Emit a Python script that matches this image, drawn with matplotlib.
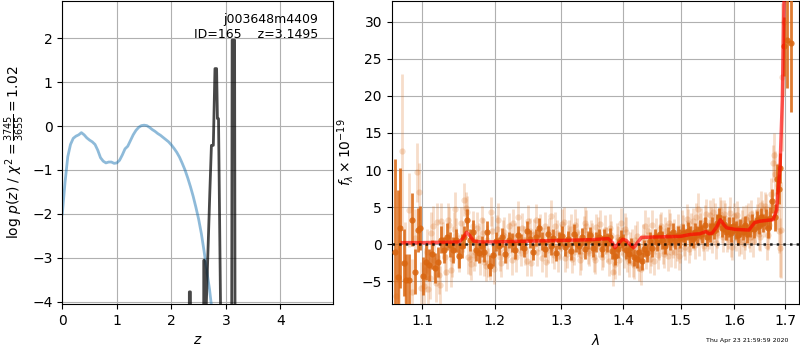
import numpy as np
import matplotlib
matplotlib.use("Agg")
import matplotlib.pyplot as plt
from matplotlib.ticker import NullLocator, FixedLocator, FixedFormatter

# ---------------- left panel data ----------------
z_pz = [0.0, 0.05, 0.1, 0.15, 0.2, 0.25, 0.3, 0.35, 0.4, 0.45, 0.5, 0.55, 0.6, 0.65,
        0.7, 0.75, 0.8, 0.85, 0.9, 0.95, 1.0, 1.05, 1.1, 1.15, 1.2, 1.25, 1.3, 1.35,
        1.4, 1.45, 1.5, 1.55, 1.6, 1.65, 1.7, 1.75, 1.8, 1.85, 1.9, 1.95, 2.0, 2.05,
        2.1, 2.15, 2.2, 2.25, 2.3, 2.35, 2.4, 2.45, 2.5, 2.55, 2.6, 2.65, 2.7, 2.75, 2.8]
logp_pz = [-2.0, -1.28, -0.7, -0.42, -0.28, -0.23, -0.2, -0.15, -0.2, -0.27, -0.32,
           -0.36, -0.42, -0.55, -0.72, -0.8, -0.84, -0.82, -0.82, -0.85, -0.84, -0.78,
           -0.66, -0.52, -0.46, -0.33, -0.2, -0.1, -0.03, 0.01, 0.02, 0.01, -0.03,
           -0.08, -0.12, -0.17, -0.21, -0.26, -0.31, -0.36, -0.43, -0.51, -0.6, -0.71,
           -0.85, -1.0, -1.18, -1.38, -1.6, -1.85, -2.12, -2.45, -2.85, -3.3, -3.72,
           -4.25, -4.9]

z_chi = [0.0, 2.32, 2.33, 2.35, 2.36, 2.585, 2.595, 2.605, 2.615, 2.63, 2.705, 2.735,
         2.77, 2.80, 2.83, 2.845, 2.865, 2.91, 2.95, 3.10, 3.115, 3.16, 3.175, 4.96]
logp_chi = [-10, -10, -3.78, -3.78, -10, -10, -3.06, -3.06, -10, -4.5, -1.54, -0.44,
            -0.44, 1.31, 1.31, 0.17, 0.17, -5.0, -10, -10, 1.96, 1.96, -10, -10]

# ---------------- right panel data ----------------
faint_wave = [1.0660, 1.0700, 1.0740, 1.0780, 1.0820, 1.0865, 1.0905, 1.0926, 1.0950,
              1.0985, 1.1025, 1.1060, 1.1100, 1.1140, 1.1180, 1.1220, 1.1255, 1.1300,
              1.1340, 1.1380, 1.1420, 1.1460, 1.1500, 1.1561, 1.1590, 1.1625, 1.1665,
              1.1705, 1.1750, 1.1790, 1.1830, 1.1870, 1.1905, 1.1944, 1.1985, 1.2025,
              1.2070, 1.2115, 1.2160, 1.2205, 1.2250, 1.2295, 1.2340, 1.2385, 1.2430,
              1.2475, 1.2520, 1.2565, 1.2610, 1.2655, 1.2700, 1.2745, 1.2790, 1.2835,
              1.2880, 1.2925, 1.2970, 1.3015, 1.3060, 1.3105, 1.3150, 1.3195, 1.3240,
              1.3285, 1.3330, 1.3375, 1.3420, 1.3465, 1.3510, 1.3555, 1.3600, 1.3645,
              1.3690, 1.3735, 1.3780, 1.3833, 1.3870, 1.3915, 1.3960, 1.4005, 1.4050,
              1.4095, 1.4140, 1.4185, 1.4230, 1.4275, 1.4320, 1.4365, 1.4410, 1.4455,
              1.4500, 1.4545, 1.4590, 1.4635, 1.4680, 1.4725, 1.4770, 1.4815, 1.4860,
              1.4905, 1.4950, 1.4995, 1.5040, 1.5085, 1.5130, 1.5175, 1.5220, 1.5265,
              1.5319, 1.5355, 1.5400, 1.5445, 1.5490, 1.5535, 1.5580, 1.5625, 1.5670,
              1.5715, 1.5760, 1.5805, 1.5850, 1.5895, 1.5940, 1.5985, 1.6030, 1.6075,
              1.6120, 1.6165, 1.6210, 1.6255, 1.6300, 1.6345, 1.6390, 1.6435, 1.6480,
              1.6525, 1.6570, 1.6615, 1.6660, 1.6705, 1.6760, 1.6790, 1.6830, 1.6870,
              1.6910, 1.6935, 1.6975]
faint_flux = [-7.0, -4.8, 12.6, -2.5, 4.6, -6.5, 0.8, 9.7, 7.1, -5.9, -5.7, -1.0, -4.6,
              2.4, -5.2, -4.1, 3.1, -1.8, 3.2, -3.5, 2.0, 1.2, -1.6, 6.0, 4.9, -1.8,
              -2.7, -1.5, 2.2, -2.0, 1.5, -3.0, -2.5, 4.4, -3.4, 2.0, -1.8, 1.2, -0.6,
              2.5, -2.1, 1.0, 3.6, -1.2, 0.5, -2.3, 1.8, -0.2, 3.3, 0.9, -1.9, 2.4, -0.8,
              3.8, -1.5, 1.5, -0.3, 2.7, -1.9, 0.7, 2.0, -1.0, 1.6, -2.2, 0.4, 2.9, -0.9,
              1.3, -1.7, 2.3, 0.1, -1.8, 1.9, -0.5, 2.2, -3.7, -2.7, 0.6, 2.8, -1.4, 1.7,
              -2.4, 0.2, -2.8, 1.1, -3.2, -1.0, 2.5, -0.2, -2.0, 2.6, 0.4, -1.5, 2.1,
              -0.9, 1.8, -1.6, 2.4, 0.0, -1.1, 2.2, -0.7, 1.9, -0.4, 2.9, 0.5, 3.1, -0.1,
              4.7, 2.3, 0.9, 3.3, 1.0, 3.9, 0.6, 3.6, 1.5, 4.6, 2.0, 4.0, 0.8, 3.2, 0.3,
              3.8, 1.0, 2.9, 0.4, 3.3, 1.2, 3.7, 0.9, 2.6, 1.8, 3.5, 1.4, 5.3, 3.0, 4.8,
              1.2, 4.0, 10.9, 9.5, 5.0, 1.8, 1.9, 22.6, 30.0]
faint_err = [6.5, 6.0, 10.3, 5.5, 5.0, 4.5, 4.0, 4.0, 3.8, 3.5, 3.2, 3.0, 2.8, 2.7,
             2.6, 2.6, 2.5, 2.4, 2.4, 2.3, 2.3, 2.3, 2.2, 2.2, 2.2, 2.2, 2.1, 2.1, 2.1,
             2.1, 2.0, 2.0, 2.0, 2.0, 2.0, 1.9, 1.8, 2.1, 1.9, 1.7, 2.0, 1.9, 2.2, 1.8,
             1.9, 2.0, 1.7, 1.9, 2.1, 1.8, 1.9, 2.0, 1.8, 2.2, 1.9, 1.7, 1.9, 2.0, 1.8,
             1.9, 2.1, 1.8, 1.9, 2.0, 1.7, 2.1, 1.8, 1.9, 2.0, 1.8, 1.9, 1.7, 2.0, 1.9,
             1.8, 2.0, 2.0, 1.9, 2.1, 1.8, 1.9, 2.0, 1.8, 1.9, 2.0, 1.8, 1.9, 2.1, 1.8,
             1.9, 2.0, 1.7, 1.9, 2.0, 1.8, 1.9, 2.0, 1.8, 1.9, 2.1, 1.8, 1.9, 2.0, 1.8,
             1.9, 2.0, 1.8, 1.9, 2.2, 1.9, 1.8, 2.0, 1.9, 2.1, 1.8, 1.9, 2.0, 1.8, 1.9,
             2.0, 1.8, 1.9, 2.0, 1.8, 1.9, 2.1, 1.8, 1.9, 2.0, 1.8, 1.9, 2.0, 1.8, 1.9,
             2.2, 1.9, 2.1, 1.9, 2.0, 1.9, 2.5, 3.0, 3.0, 3.0, 6.5, 10.0, 10.0]

faint2_wave = [1.1040, 1.1080, 1.1120, 1.1160, 1.1200, 1.1240, 1.1280, 1.1320, 1.1360, 1.1400,
               1.1440, 1.1480, 1.1520, 1.1545, 1.1605, 1.1645, 1.1685, 1.1725, 1.1770, 1.1810,
               1.1850, 1.1890, 1.1925, 1.1965, 1.2005, 1.2045, 1.2090, 1.2135, 1.2180, 1.2225,
               1.2270, 1.2315, 1.2360, 1.2405, 1.2450, 1.2495, 1.2540, 1.2585, 1.2630, 1.2675,
               1.2720, 1.2765, 1.2810, 1.2855, 1.2900, 1.2945, 1.2990, 1.3035, 1.3080, 1.3125,
               1.3170, 1.3215, 1.3260, 1.3305, 1.3350, 1.3395, 1.3440, 1.3485, 1.3530, 1.3575,
               1.3620, 1.3665, 1.3710, 1.3755, 1.3800, 1.3850, 1.3890, 1.3935, 1.3980, 1.4025,
               1.4070, 1.4115, 1.4160, 1.4205, 1.4250, 1.4295, 1.4340, 1.4385, 1.4430, 1.4475,
               1.4520, 1.4565, 1.4610, 1.4655, 1.4700, 1.4745, 1.4790, 1.4835, 1.4880, 1.4925,
               1.4970, 1.5015, 1.5060, 1.5105, 1.5150, 1.5195, 1.5240, 1.5285, 1.5330, 1.5375,
               1.5420, 1.5465, 1.5510, 1.5555, 1.5600, 1.5645, 1.5690, 1.5735, 1.5780, 1.5825,
               1.5870, 1.5915, 1.5960, 1.6005, 1.6050, 1.6095, 1.6140, 1.6185, 1.6230, 1.6275,
               1.6320, 1.6365, 1.6410, 1.6455, 1.6500, 1.6545, 1.6590, 1.6635, 1.6680, 1.6725,
               1.6770, 1.6815, 1.6855, 1.6890]
faint2_flux = [-3.5, -6.0, 1.5, -2.2, 3.0, -5.5, 0.5, -3.8, 2.6, -2.0,
               4.8, -1.0, 2.8, 1.0, 4.4, -2.0, 2.5, -1.0, 0.8, 3.2,
               -2.4, 0.5, -3.0, 1.8, -1.2, 3.3, -2.6, 1.6, -1.5, 0.9,
               2.9, -1.7, 0.6, 2.2, -0.9, 3.1, -2.5, 1.4, -1.0, 2.0,
               0.3, -2.4, 1.7, -0.5, 2.5, -1.6, 0.9, 3.0, -1.3, 1.2,
               -2.0, 2.6, 0.0, -1.5, 1.9, 2.4, -1.2, 0.8, -2.1, 1.5,
               2.7, -1.0, 0.5, -2.3, 1.2, -1.8, 1.0, -2.2, 0.4, 2.1,
               -1.9, -0.5, -2.6, 0.6, -1.7, -3.3, 0.9, -1.4, 1.8, -0.8,
               -2.3, 1.4, -0.4, 2.4, -1.3, 0.7, 2.9, -1.1, 1.5, -0.2,
               -1.6, 2.5, 0.2, 3.4, -0.6, 2.0, 1.0, 3.6, 0.3, 2.8,
               -0.2, 4.0, 1.2, 3.0, 4.3, 0.2, 2.6, 3.9, 0.9, 3.5,
               1.3, 4.2, -0.4, 2.4, 3.9, 0.6, 2.8, 0.0, 3.4, 1.6,
               4.0, 0.4, 2.9, 4.4, 1.0, 3.8, 5.2, -0.2, 2.6, 6.8,
               12.0, 4.6, 8.0, -0.5]
faint2_err = [3.0, 2.9, 2.8, 2.7, 2.6, 2.6, 2.5, 2.5, 2.4, 2.4,
              2.3, 2.2, 2.2, 2.1, 2.1, 2.1, 2.0, 2.0, 2.0, 2.0,
              1.9, 2.1, 1.8, 2.0, 1.9, 2.2, 1.8, 2.0, 1.9, 2.1,
              1.9, 2.1, 1.8, 2.0, 1.9, 2.2, 1.8, 2.0, 1.9, 2.1,
              1.9, 2.1, 1.8, 2.0, 1.9, 2.2, 1.8, 2.0, 1.9, 2.1,
              1.9, 2.1, 1.8, 2.0, 1.9, 2.2, 1.8, 2.0, 1.9, 2.1,
              1.9, 2.1, 1.8, 2.0, 1.9, 2.2, 1.8, 2.0, 1.9, 2.1,
              1.9, 2.1, 1.8, 2.0, 1.9, 2.2, 1.8, 2.0, 1.9, 2.1,
              1.9, 2.1, 1.8, 2.0, 1.9, 2.2, 1.8, 2.0, 1.9, 2.1,
              1.9, 2.1, 1.8, 2.0, 1.9, 2.2, 1.8, 2.0, 1.9, 2.1,
              1.9, 2.1, 1.8, 2.0, 1.9, 2.2, 1.8, 2.0, 1.9, 2.1,
              1.9, 2.1, 1.8, 2.0, 1.9, 2.2, 1.8, 2.0, 1.9, 2.1,
              1.9, 2.1, 1.8, 2.0, 1.9, 2.2, 1.8, 2.0, 1.9, 2.1,
              3.0, 2.5, 3.0, 4.0]

dark_wave = [1.0645, 1.0682, 1.0715, 1.0755, 1.0790, 1.0830, 1.0868, 1.0905, 1.0940,
             1.0975, 1.1013, 1.1050, 1.1090, 1.1130, 1.1170, 1.1210, 1.1250, 1.1290,
             1.1330, 1.1370, 1.1410, 1.1450, 1.1490, 1.1530, 1.1570, 1.1605, 1.1645,
             1.1690, 1.1730, 1.1770, 1.1810, 1.1850, 1.1890, 1.1937, 1.1975, 1.2020,
             1.2065, 1.2110, 1.2155, 1.2200, 1.2245, 1.2290, 1.2335, 1.2380, 1.2425,
             1.2470, 1.2515, 1.2560, 1.2605, 1.2650, 1.2695, 1.2740, 1.2785, 1.2830,
             1.2875, 1.2920, 1.2965, 1.3010, 1.3055, 1.3100, 1.3145, 1.3190, 1.3235,
             1.3280, 1.3325, 1.3370, 1.3415, 1.3460, 1.3505, 1.3550, 1.3595, 1.3640,
             1.3685, 1.3730, 1.3775, 1.3820, 1.3865, 1.3910, 1.3955, 1.4000, 1.4045,
             1.4090, 1.4135, 1.4180, 1.4225, 1.4270, 1.4315, 1.4360, 1.4405, 1.4450,
             1.4495, 1.4540, 1.4585, 1.4630, 1.4675, 1.4720, 1.4765, 1.4810, 1.4855,
             1.4900, 1.4945, 1.4990, 1.5035, 1.5080, 1.5125, 1.5170, 1.5215, 1.5260,
             1.5305, 1.5350, 1.5395, 1.5440, 1.5485, 1.5530, 1.5575, 1.5620, 1.5665,
             1.5710, 1.5755, 1.5800, 1.5845, 1.5890, 1.5935, 1.5980, 1.6025, 1.6070,
             1.6115, 1.6160, 1.6205, 1.6250, 1.6295, 1.6340, 1.6385, 1.6430, 1.6475,
             1.6520, 1.6565, 1.6610, 1.6655, 1.6700, 1.6745, 1.6790, 1.6835, 1.6870,
             1.6905, 1.6986, 1.7048, 1.7117]
dark_flux = [-1.0, -4.4, 2.2, -2.5, -4.8, -4.8, 3.3, -3.7, 1.9, 2.2, -4.3, -2.4, -2.8,
             -1.4, -3.2, -2.4, 0.6, -0.8, 1.0, -0.1, -0.8, 0.5, -1.6, -0.3, 1.0, 3.3,
             0.6, 1.7, -0.8, -1.2, -0.3, -1.0, 1.7, -2.9, -1.5, 0.4, -0.3, 0.9, -1.3,
             0.6, 0.2, -0.8, 1.2, 0.3, -0.5, 1.8, 0.7, -1.1, 0.9, 2.2, 0.4, -0.6, 1.3,
             -0.2, 0.8, -1.2, 0.5, 1.1, -0.4, 0.7, -0.9, 1.4, 0.2, -0.3, 1.0, -0.7, 0.6,
             1.2, -0.5, 0.3, 0.9, -0.6, 0.8, 0.2, 1.0, -0.9, -1.6, -0.6, 0.7, 0.2, -0.8,
             -1.3, -0.4, -1.8, -2.0, -1.1, -2.3, -0.6, -1.2, 0.4, -0.5, 1.0, 0.3, 1.3,
             0.6, -0.3, 1.1, 0.5, 1.6, 0.4, 1.2, 0.8, 1.5, 0.9, 1.8, 1.1, 0.7, 1.7, 1.2,
             2.0, 1.4, 2.6, 0.9, 1.6, 2.4, 1.8, 2.9, 3.6, 2.2, 2.7, 1.7, 2.3, 1.5, 2.5,
             1.9, 1.2, 2.2, 1.6, 2.6, 1.4, 2.1, 2.9, 2.0, 3.2, 2.5, 3.6, 2.8, 3.4, 2.2,
             3.5, 5.8, 3.6, 8.8, 7.4, 10.3, 26.7, 27.5, 27.2]
dark_err = [12.5, 11.7, 8.1, 4.5, 3.5, 3.5, 3.6, 3.0, 3.0, 3.0, 2.5, 2.4, 2.2, 2.0,
            2.0, 2.0, 1.8, 1.8, 1.8, 1.7, 1.7, 1.6, 1.6, 1.6, 1.5, 1.5, 1.5, 1.5, 1.5,
            1.4, 1.4, 1.4, 1.4, 1.4, 1.4, 1.3, 1.2, 1.3, 1.2, 1.1, 1.3, 1.2, 1.3, 1.1,
            1.2, 1.3, 1.2, 1.1, 1.2, 1.3, 1.2, 1.1, 1.2, 1.3, 1.2, 1.1, 1.2, 1.3, 1.2,
            1.1, 1.2, 1.3, 1.2, 1.1, 1.2, 1.3, 1.2, 1.1, 1.2, 1.3, 1.2, 1.1, 1.2, 1.3,
            1.2, 1.1, 1.2, 1.3, 1.2, 1.1, 1.2, 1.3, 1.2, 1.1, 1.2, 1.3, 1.2, 1.1, 1.2,
            1.3, 1.2, 1.1, 1.2, 1.3, 1.2, 1.1, 1.2, 1.3, 1.2, 1.1, 1.2, 1.3, 1.2, 1.1,
            1.2, 1.3, 1.2, 1.1, 1.2, 1.3, 1.2, 1.1, 1.2, 1.3, 1.2, 1.1, 1.2, 1.3, 1.2,
            1.1, 1.2, 1.3, 1.2, 1.1, 1.2, 1.3, 1.2, 1.1, 1.2, 1.3, 1.2, 1.1, 1.2, 1.3,
            1.2, 1.3, 1.2, 1.3, 1.4, 1.5, 1.6, 1.8, 2.0, 2.0, 2.0, 4.0, 6.4, 9.4]

model_wave = [1.074, 1.100, 1.130, 1.150, 1.155, 1.160, 1.165, 1.170, 1.180, 1.200,
              1.250, 1.300, 1.350, 1.375, 1.381, 1.386, 1.392, 1.399, 1.405, 1.412,
              1.418, 1.424, 1.431, 1.450, 1.500, 1.517, 1.535, 1.546, 1.552, 1.558,
              1.566, 1.573, 1.580, 1.585, 1.600, 1.628, 1.639, 1.650, 1.676, 1.683,
              1.690, 1.6946, 1.698, 1.702]
model_flux = [0.2, 0.2, 0.25, 0.3, 0.8, 1.6, 1.1, 0.4, 0.3, 0.3, 0.4, 0.5, 0.6, 0.75,
              0.3, -0.5, 0.1, 0.65, 0.5, -0.1, -0.5, 0.2, 0.9, 0.95, 1.05, 1.3, 1.4,
              1.7, 1.4, 1.5, 2.3, 3.3, 2.6, 2.2, 2.0, 1.9, 2.9, 3.1, 3.3, 4.6, 10.5,
              19.5, 33.0, 45.0]

z_ticks = [0, 1, 2, 3, 4]
lam_ticks = [1.1, 1.2, 1.3, 1.4, 1.5, 1.6, 1.7]
lam_labels = ["1.1", "1.2", "1.3", "1.4", "1.5", "1.6", "1.7"]

orange = "#d9650f"

fig = plt.figure(figsize=(8, 3.5), dpi=100)
ax1 = fig.add_axes([0.0779, 0.131, 0.338, 0.866])
ax2 = fig.add_axes([0.4896, 0.131, 0.5095, 0.866])

# ---- left
ax1.plot(z_pz, logp_pz, color="tab:blue", alpha=0.5, lw=2)
ax1.plot(z_chi, logp_chi, color="k", alpha=0.72, lw=2)
ax1.set_xlim(0, 4.96)
ax1.set_ylim(-4.06, 2.85)
ax1.set_xticks(z_ticks)
ax1.set_yticks([-4, -3, -2, -1, 0, 1, 2])
ax1.grid(True)
ax1.set_xlabel("$z$")
ax1.set_ylabel(r"log $p(z)$ / $\chi^2=\frac{3745}{3655}=1.02$")
ax1.text(0.945, 0.96, "j003648m4409\nID=165    z=3.1495", transform=ax1.transAxes,
         ha="right", va="top", fontsize=9)

# ---- right
for w, f, e in [(faint_wave, faint_flux, faint_err), (faint2_wave, faint2_flux, faint2_err)]:
    ax2.errorbar(w, f, yerr=e, fmt="o", color=orange, alpha=0.22, ms=4.5,
                 elinewidth=2, capsize=0, mec="none", zorder=3)
ax2.errorbar(dark_wave, dark_flux, yerr=dark_err, fmt="o", color=orange,
             alpha=0.85, ms=4.5, elinewidth=2, capsize=0, mec="none", zorder=4)
ax2.plot(model_wave, model_flux, color="red", alpha=0.65, lw=2.5, zorder=5)
ax2.axhline(0, color="k", ls=":", lw=1.8, alpha=0.85, zorder=6)
ax2.set_xscale("log")
ax2.set_xlim(1.0603, 1.7294)
ax2.set_ylim(-8.1, 32.8)
ax2.xaxis.set_major_locator(FixedLocator(lam_ticks))
ax2.xaxis.set_major_formatter(FixedFormatter(lam_labels))
ax2.xaxis.set_minor_locator(NullLocator())
ax2.set_yticks([-5, 0, 5, 10, 15, 20, 25, 30])
ax2.grid(True)
ax2.set_xlabel(r"$\lambda$")
ax2.set_ylabel(r"$f_\lambda\times10^{-19}$")

fig.text(0.985, 0.028, "Thu Apr 23 21:59:59 2020", ha="right", va="center", fontsize=4.5)

fig.savefig("out.png", dpi=100)
